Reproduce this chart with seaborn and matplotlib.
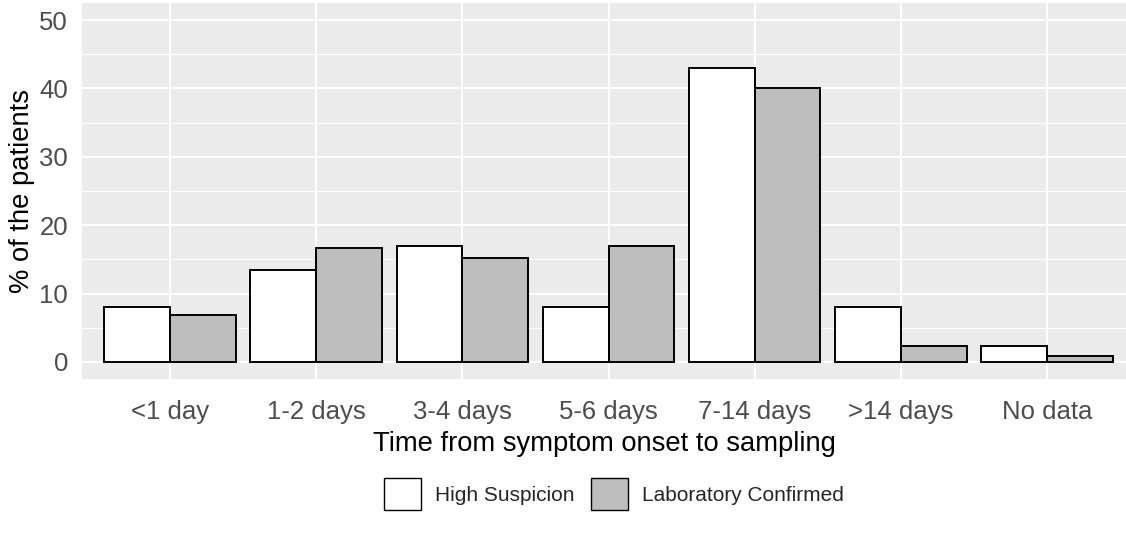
import matplotlib
matplotlib.use("Agg")
import matplotlib.pyplot as plt
import seaborn as sns
import pandas as pd

# values
categories = ["<1 day", "1-2 days", "3-4 days", "5-6 days", "7-14 days", ">14 days", "No data"]
high_suspicion = [8.0, 13.5, 17.0, 8.0, 43.0, 8.0, 2.4]
lab_confirmed = [6.8, 16.7, 15.2, 17.0, 40.1, 2.4, 0.9]
groups = ["High Suspicion", "Laboratory Confirmed"]
y_ticks = [0, 10, 20, 30, 40, 50]
y_minor = [5, 15, 25, 35, 45]

sns.set_theme(style="darkgrid", rc={
    "axes.facecolor": "#EBEBEB",
    "grid.color": "white",
    "axes.edgecolor": "#EBEBEB",
})
plt.rcParams["font.family"] = ["Liberation Sans", "DejaVu Sans"]

df = pd.DataFrame({
    "category": categories * 2,
    "group": [groups[0]] * len(categories) + [groups[1]] * len(categories),
    "pct": high_suspicion + lab_confirmed,
})

fig = plt.figure(figsize=(11.26, 5.42), dpi=100)
ax = fig.add_axes([82 / 1126, 1 - 379 / 542, (1126 - 82) / 1126, 376 / 542])

sns.barplot(data=df, x="category", y="pct", hue="group", order=categories,
            hue_order=groups, palette={groups[0]: "white", groups[1]: "#BEBEBE"},
            width=0.9, edgecolor="black", linewidth=1.4, saturation=1,
            errorbar=None, ax=ax)

ax.set_xlim(-0.602, 6.54)
ax.set_ylim(-2.5, 52.5)
ax.set_yticks(y_ticks)
ax.set_yticks(y_minor, minor=True)
ax.grid(True, which="major", color="white", linewidth=1.4)
ax.grid(True, which="minor", axis="y", color="white", linewidth=0.7)
ax.set_axisbelow(True)
for s in ax.spines.values():
    s.set_visible(False)

ax.tick_params(axis="both", which="major", length=5, width=1.1, color="#333333",
               labelcolor="#4D4D4D", labelsize=18.5, pad=5)
ax.tick_params(axis="both", which="minor", length=0)
ax.tick_params(axis="x", pad=10)

ax.set_xlabel("Time from symptom onset to sampling", fontsize=19.7, color="black", labelpad=5)
ax.set_ylabel("% of the patients", fontsize=19.7, color="black", labelpad=3)

handles, labels = ax.get_legend_handles_labels()
ax.get_legend().remove()
for h in handles:
    h.set_linewidth(1.0)
fig.legend(handles, labels, loc="center", bbox_to_anchor=(614 / 1126, 1 - 494 / 542),
           ncol=2, frameon=False, fontsize=15, handlelength=1.78, handleheight=2.05,
           handletextpad=0.67, columnspacing=0.8)

fig.savefig("out.png", dpi=100)
